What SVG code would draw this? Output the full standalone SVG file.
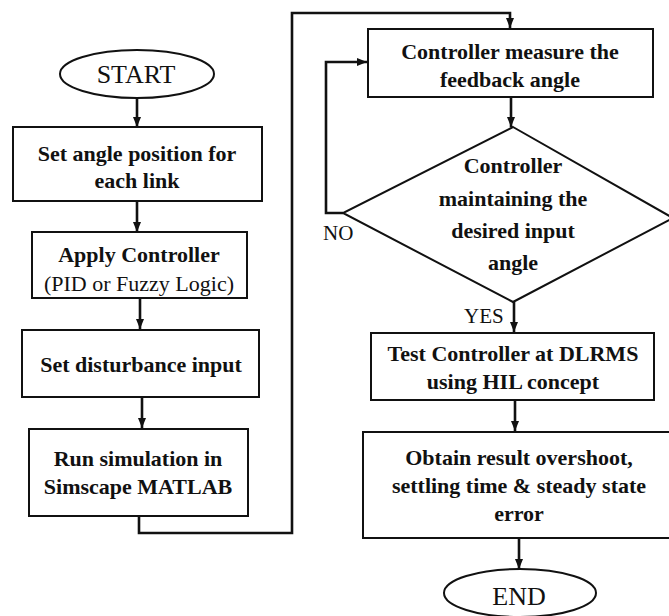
<svg xmlns="http://www.w3.org/2000/svg" width="669" height="616" viewBox="0 0 669 616">
<defs>
<marker id="ah" markerUnits="userSpaceOnUse" markerWidth="10" markerHeight="10" viewBox="0 0 10 10" refX="10" refY="5" orient="auto">
<path d="M0,1 L10,5 L0,9 Z" fill="#111"/>
</marker>
</defs>
<rect width="669" height="616" fill="#fff"/>
<g id="connectors" fill="none" stroke="#111" stroke-width="2.6">
<line x1="137" y1="98" x2="137" y2="127" marker-end="url(#ah)"/>
<line x1="137" y1="201" x2="137" y2="232" marker-end="url(#ah)"/>
<line x1="140" y1="298" x2="140" y2="329" marker-end="url(#ah)"/>
<line x1="142" y1="397" x2="142" y2="428" marker-end="url(#ah)"/>
<polyline points="139,516 139,533 292,533 292,13 510,13 510,28" marker-end="url(#ah)"/>
<line x1="511" y1="97" x2="511" y2="127" marker-end="url(#ah)"/>
<polyline points="343,213 326,213 326,62 367,62" marker-end="url(#ah)"/>
<line x1="514" y1="302" x2="514" y2="332" marker-end="url(#ah)"/>
<line x1="515" y1="400" x2="515" y2="431" marker-end="url(#ah)"/>
<line x1="519" y1="539" x2="519" y2="569" marker-end="url(#ah)"/>
</g>
<g id="start">
<ellipse cx="137" cy="74" rx="77" ry="24" fill="#fff" stroke="#111" stroke-width="2"/>
<text x="136" y="83" font-family="'Liberation Serif', serif" font-size="26" fill="#111" text-anchor="middle">START</text>
</g>
<g id="set-angle">
<rect x="13" y="127" width="249" height="74" fill="#fff" stroke="#111" stroke-width="2"/>
<text x="137" y="161" font-family="'Liberation Serif', serif" font-size="22" font-weight="bold" fill="#111" text-anchor="middle">Set angle position for</text>
<text x="137" y="188" font-family="'Liberation Serif', serif" font-size="22" font-weight="bold" fill="#111" text-anchor="middle">each link</text>
</g>
<g id="apply-controller">
<rect x="32" y="232" width="215" height="66" fill="#fff" stroke="#111" stroke-width="2"/>
<text x="139" y="262" font-family="'Liberation Serif', serif" font-size="22" font-weight="bold" fill="#111" text-anchor="middle">Apply Controller</text>
<text x="139" y="291" font-family="'Liberation Serif', serif" font-size="22" fill="#111" text-anchor="middle">(PID or Fuzzy Logic)</text>
</g>
<g id="disturbance">
<rect x="22" y="330" width="237" height="67" fill="#fff" stroke="#111" stroke-width="2"/>
<text x="141" y="372" font-family="'Liberation Serif', serif" font-size="22" font-weight="bold" fill="#111" text-anchor="middle">Set disturbance input</text>
</g>
<g id="run-sim">
<rect x="29" y="429" width="219" height="87" fill="#fff" stroke="#111" stroke-width="2"/>
<text x="138" y="466" font-family="'Liberation Serif', serif" font-size="22" font-weight="bold" fill="#111" text-anchor="middle">Run simulation in</text>
<text x="138" y="494" font-family="'Liberation Serif', serif" font-size="22" font-weight="bold" fill="#111" text-anchor="middle">Simscape MATLAB</text>
</g>
<g id="measure">
<rect x="368" y="29" width="285" height="68" fill="#fff" stroke="#111" stroke-width="2"/>
<text x="510" y="59" font-family="'Liberation Serif', serif" font-size="22" font-weight="bold" fill="#111" text-anchor="middle">Controller measure the</text>
<text x="510" y="87" font-family="'Liberation Serif', serif" font-size="22" font-weight="bold" fill="#111" text-anchor="middle">feedback angle</text>
</g>
<g id="decision">
<polygon points="513,127 673,218 513,302 343,213" fill="#fff" stroke="#111" stroke-width="2"/>
<text x="513" y="173" font-family="'Liberation Serif', serif" font-size="22" font-weight="bold" fill="#111" text-anchor="middle">Controller</text>
<text x="513" y="206" font-family="'Liberation Serif', serif" font-size="22" font-weight="bold" fill="#111" text-anchor="middle">maintaining the</text>
<text x="513" y="238" font-family="'Liberation Serif', serif" font-size="22" font-weight="bold" fill="#111" text-anchor="middle">desired input</text>
<text x="513" y="270" font-family="'Liberation Serif', serif" font-size="22" font-weight="bold" fill="#111" text-anchor="middle">angle</text>
</g>
<g id="labels">
<text x="323" y="240" font-family="'Liberation Serif', serif" font-size="21" fill="#111">NO</text>
<text x="464" y="323" font-family="'Liberation Serif', serif" font-size="21" fill="#111">YES</text>
</g>
<g id="test-hil">
<rect x="371" y="333" width="283" height="67" fill="#fff" stroke="#111" stroke-width="2"/>
<text x="513" y="361" font-family="'Liberation Serif', serif" font-size="22" font-weight="bold" fill="#111" text-anchor="middle">Test Controller at DLRMS</text>
<text x="513" y="389" font-family="'Liberation Serif', serif" font-size="22" font-weight="bold" fill="#111" text-anchor="middle">using HIL concept</text>
</g>
<g id="obtain">
<rect x="363" y="432" width="310" height="106" fill="#fff" stroke="#111" stroke-width="2"/>
<text x="519" y="465" font-family="'Liberation Serif', serif" font-size="22" font-weight="bold" fill="#111" text-anchor="middle">Obtain result overshoot,</text>
<text x="519" y="493" font-family="'Liberation Serif', serif" font-size="22" font-weight="bold" fill="#111" text-anchor="middle">settling time &amp; steady state</text>
<text x="519" y="521" font-family="'Liberation Serif', serif" font-size="22" font-weight="bold" fill="#111" text-anchor="middle">error</text>
</g>
<g id="end">
<ellipse cx="520" cy="593" rx="76" ry="24" fill="#fff" stroke="#111" stroke-width="2"/>
<text x="519" y="605" font-family="'Liberation Serif', serif" font-size="26" fill="#111" text-anchor="middle">END</text>
</g>
</svg>
